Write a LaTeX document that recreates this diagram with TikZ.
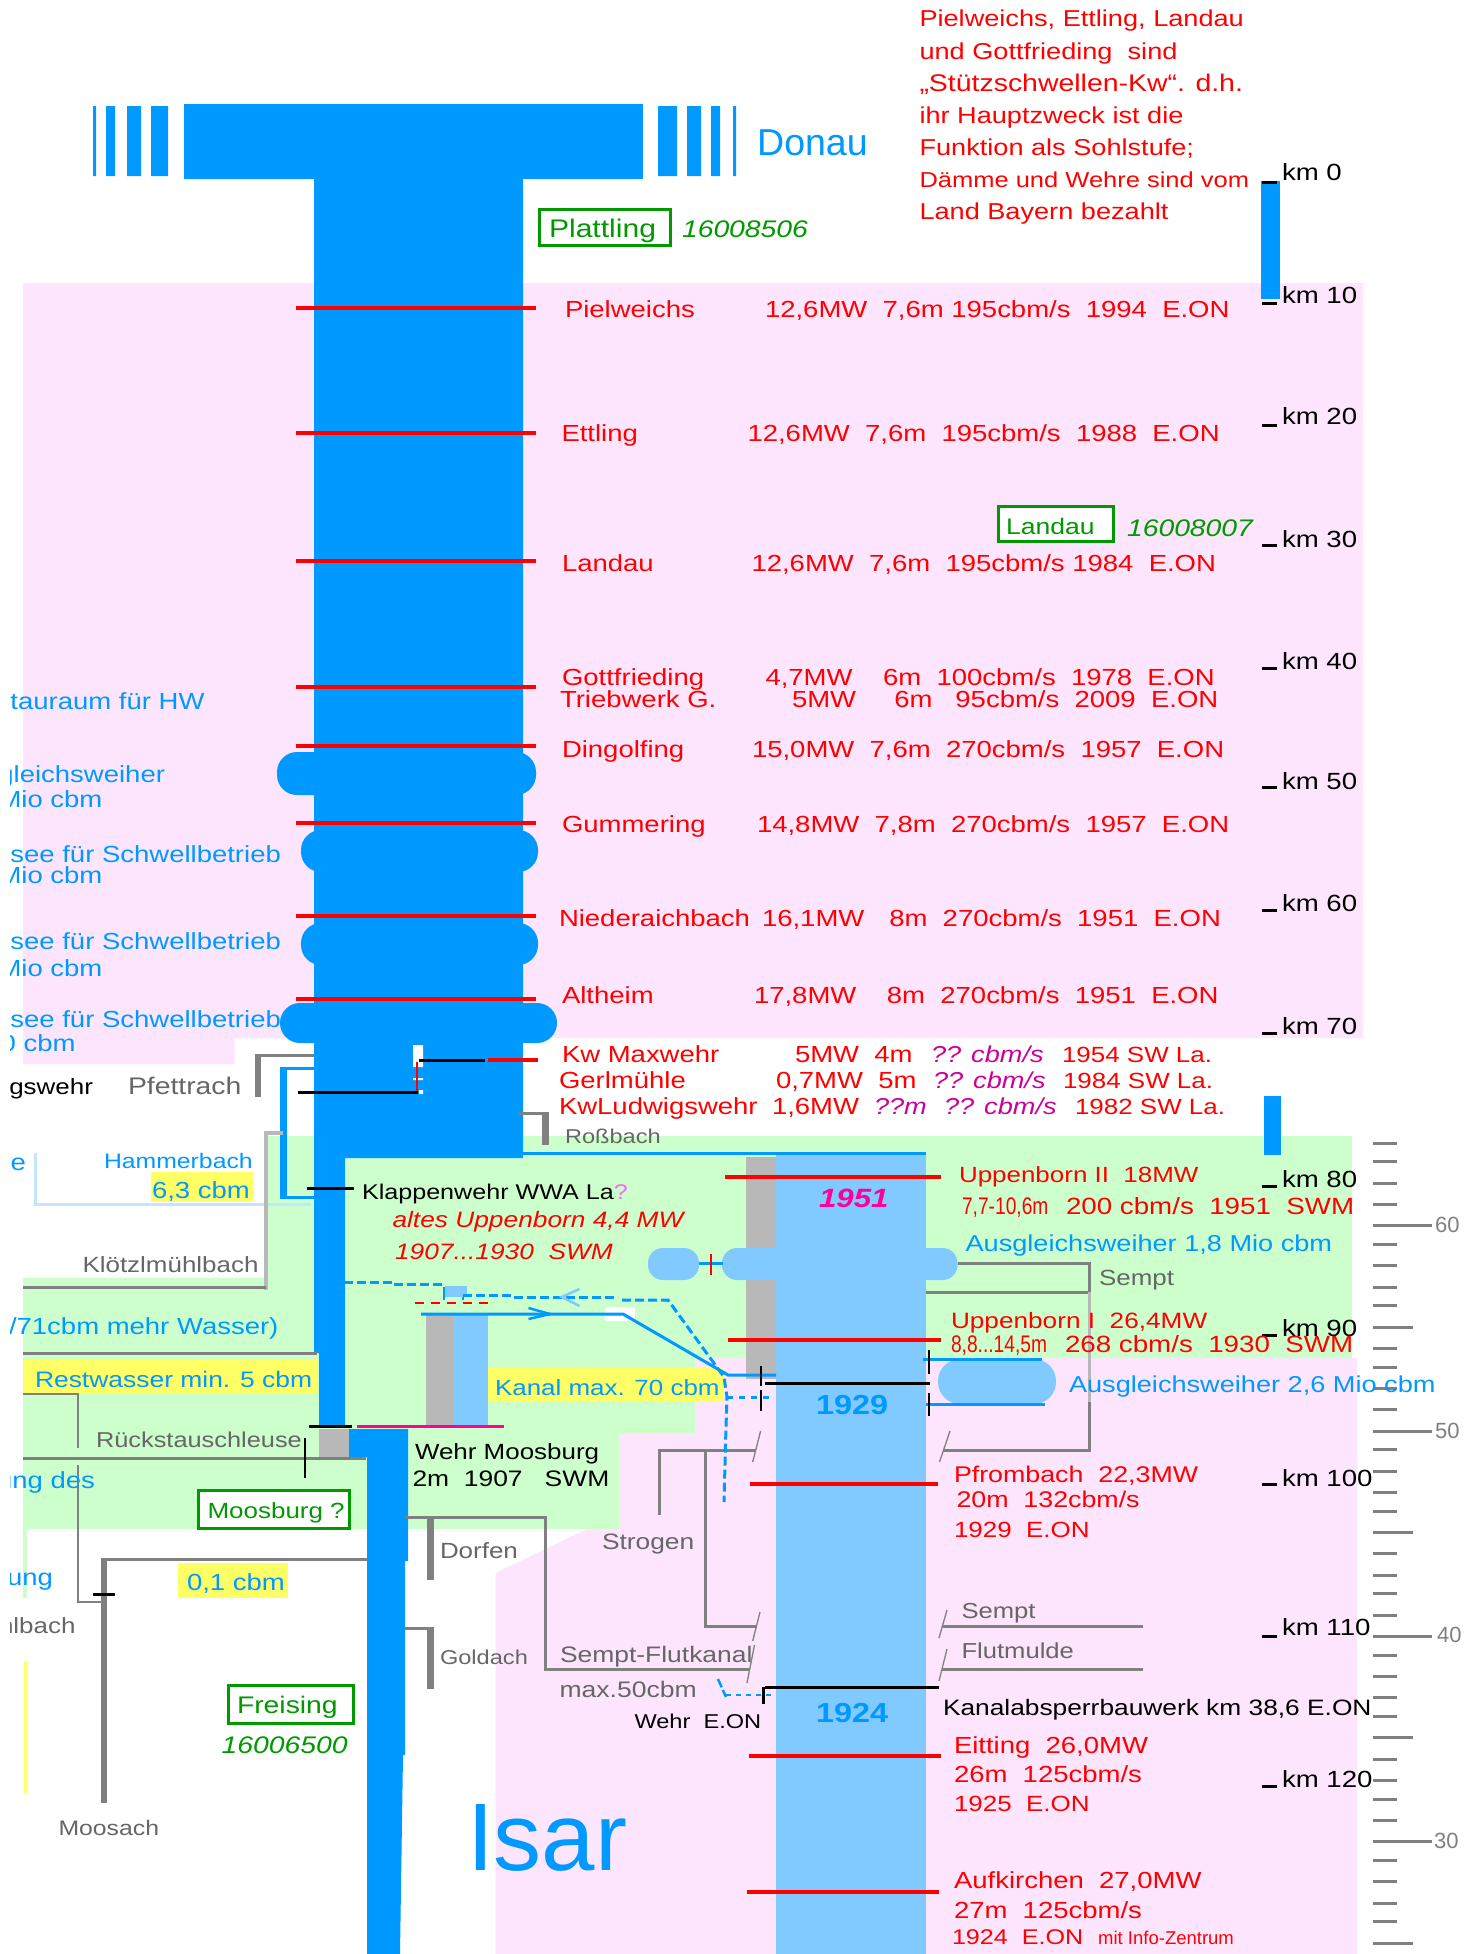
\documentclass[tikz,border=0pt]{standalone}
\usepackage{fontspec}
\newfontfamily\fsa[FakeStretch=1.18,Ligatures=NoCommon]{Liberation Sans}
\newfontfamily\fsn[Ligatures=NoCommon]{Liberation Sans}
\newfontfamily\fsc[FakeStretch=0.8,Ligatures=NoCommon]{Liberation Sans}
\newcommand\fs[1]{\fontsize{#1}{#1}\selectfont}
\definecolor{blu}{HTML}{0099FF}
\definecolor{lblu}{HTML}{80CAFF}
\definecolor{vlblu}{HTML}{C4E4FF}
\definecolor{pnk}{HTML}{FDE5FD}
\definecolor{grn}{HTML}{CCFFCC}
\definecolor{yel}{HTML}{FFFF66}
\definecolor{gry}{HTML}{808080}
\definecolor{lgry}{HTML}{B8B8B8}
\definecolor{tgry}{HTML}{666666}
\definecolor{dgrn}{HTML}{009900}
\definecolor{mag}{HTML}{FF0099}
\definecolor{pur}{HTML}{CC0099}
\definecolor{qm}{HTML}{FF66FF}
\tikzset{
  t/.style={anchor=base west,inner sep=0pt,outer sep=0pt,font=\fsa\fs{#1}},
  t/.default=23.3,
  tr/.style={t=#1,text=red}, tr/.default=23.3,
  tb/.style={t=#1,text=blu}, tb/.default=23.3,
  tk/.style={t=#1,text=black}, tk/.default=23.4,
  tg/.style={t=#1,text=tgry}, tg/.default=22,
  tv/.style={t=#1,text=dgrn}, tv/.default=23,
  endr/.style={anchor=base east},
  pur text/.style={t=23,text=pur,font=\fsa\itshape\fs{23}},
  redl/.style={draw=red,line width=3.2pt},
  blkl/.style={draw=black,line width=3pt},
  thin blk/.style={draw=black,line width=2.2pt},
  gl/.style={draw=gry,line width=3pt},
  gth/.style={draw=gry,line width=1.3pt},
  gthick/.style={draw=gry,line width=7pt},
  bl/.style={draw=blu,line width=3pt},
  dsh/.style={draw=blu,line width=3pt,dash pattern=on 9pt off 4pt},
  sctick/.style={draw=gry,line width=3pt},
  kmt/.style={draw=black,line width=3pt},
  vbox/.style={draw=dgrn,line width=2.5pt,fill=white},
}
\begin{document}
\begin{tikzpicture}[x=1pt,y=-1pt]
\useasboundingbox (0,0) rectangle (1481,1954);
\fill[white] (0,0) rectangle (1481,1954);
\begin{scope}
\clip (10,0) rectangle (1481,1954);
% backgrounds
\fill[pnk] (23,283) -- (1363,283) -- (1363,1038) -- (234.5,1038) -- (234.5,1064) -- (23,1064) -- cycle;
\fill[pnk] (495.5,1954) -- (495.5,1573) -- (587,1529) -- (619,1529) -- (619,1433) -- (695,1433) -- (695,1358) -- (1357,1358) -- (1357,1954) -- cycle;
\fill[grn] (266,1136) -- (1352,1136) -- (1352,1358) -- (695,1358) -- (695,1433) -- (619,1433) -- (619,1529) -- (27,1529) -- (27,1598) -- (23,1598) -- (23,1278) -- (266,1278) -- cycle;
\fill[yel] (151,1172) rectangle (252.5,1202);
\fill[yel] (23.5,1360) rectangle (317,1393);
\fill[yel] (487,1368) rectangle (724,1401);
\fill[yel] (178,1563) rectangle (288,1598);
\fill[yel] (23.5,1662) rectangle (27,1793);
% Donau
\fill[blu] (93,106) rectangle (96,176) (106,106) rectangle (115,176) (127,106) rectangle (141,176) (151,106) rectangle (168,176);
\fill[blu] (658,106) rectangle (677,176) (687,106) rectangle (701,176) (711,106) rectangle (720,176) (733,106) rectangle (736,176);
\fill[blu] (184,104) rectangle (643,179);
% main river
\fill[blu] (314,179) -- (523,179) -- (523,1158) -- (345,1158) -- (345,1426) -- (319,1426) -- (319,1353) -- (314,1353) -- cycle;
\fill[blu,rounded corners=20pt] (277,752) rectangle (536,795);
\fill[blu,rounded corners=20pt] (301,830) rectangle (538,872);
\fill[blu,rounded corners=20pt] (301,923) rectangle (538,965);
\fill[blu,rounded corners=20pt] (280,1003) rectangle (557,1043);
\fill[white] (413,1045) rectangle (423,1067) (413,1078) rectangle (423,1080) (419,1090) rectangle (423,1094);
% lower river
\fill[lgry] (319,1429) rectangle (349,1457);
\fill[blu] (349,1429) -- (408,1429) -- (408,1561) -- (405,1561) -- (405,1755) -- (403,1755) -- (400,1954) -- (367,1954) -- (367,1457) -- (349,1457) -- cycle;
% canal
\fill[lgry] (746,1157) rectangle (776,1379);
\fill[lblu] (776,1155) rectangle (926,1954);
\fill[lblu,rounded corners=15pt] (648,1248) rectangle (699,1280);
\fill[lblu,rounded corners=15pt] (722,1248) rectangle (957.6,1280);
\fill[lblu,rounded corners=22pt] (938,1359) rectangle (1056,1404);
\fill[lgry] (426,1315) rectangle (453,1425);
\fill[lblu] (453,1315) rectangle (487.5,1425);
\fill[white] (605,1307) rectangle (635,1321);
% blue bars right
\fill[blu] (1261,181) rectangle (1280,299);
\fill[blu] (1264,1096) rectangle (1281,1155);
% grey tributaries
\draw[gl] (255,1055) -- (314,1055);
\draw[draw=gry,line width=6pt] (258,1053.5) -- (258,1097);
\draw[bl] (283,1068) -- (314,1068);
\draw[draw=blu,line width=7pt] (283,1066.5) -- (283,1199);
\draw[bl] (283,1197) -- (314,1197);
\draw[draw=vlblu,line width=3pt] (35.5,1153) -- (35.5,1204) -- (311,1204);
\draw[draw=lgry,line width=4pt] (283,1133) -- (266,1133) -- (266,1290);
\draw[gl] (23,1287) -- (266,1287);
\draw[gl] (23,1353) -- (317,1353);
\draw[draw=gry,line width=2.5pt] (23,1394) -- (78,1394) -- (78,1448);
\draw[gl] (23,1458) -- (366,1458);
\draw[draw=gry,line width=2.5pt] (78,1465) -- (78,1602) -- (104,1602);
\draw[gl] (367,1559) -- (104,1559);
\draw[draw=gry,line width=6pt] (104,1557.5) -- (104,1803);
\draw[gl] (519,1113) -- (547,1113);
\draw[gthick] (545.5,1111.5) -- (545.5,1145);
\draw[gl] (405,1517) -- (545,1517) -- (545,1669) -- (750,1669);
\draw[gthick] (430.5,1516) -- (430.5,1580);
\draw[gl] (405,1628) -- (430,1628);
\draw[gthick] (430.5,1626.5) -- (430.5,1689);
\draw[gl] (957.6,1263) -- (1089,1263) -- (1089,1293);
\draw[gl] (926,1292) -- (1089,1292);
\draw[draw=lgry,line width=3pt] (1089,1292) -- (1089,1402);
\draw[gl] (1089,1402) -- (1089,1450) -- (944,1450);
\draw[gl] (659.6,1515) -- (659.6,1450) -- (756,1450);
\draw[gl] (705,1450) -- (705,1626) -- (757,1626);
\draw[gl] (942,1626) -- (1143,1626);
\draw[gl] (942,1669) -- (1143,1669);
\draw[gth] (950,1431) -- (939.5,1462);
\draw[gth] (760.6,1431) -- (752.7,1462);
\draw[gth] (760,1612) -- (752.7,1641);
\draw[gth] (947,1610) -- (939,1638);
\draw[gth] (947,1649) -- (939,1681);
\draw[gth] (754.5,1645) -- (747,1683);
% water lines
\draw[bl] (523,1153) -- (926,1153);
\draw[bl] (699,1263) -- (723,1263);
\draw[bl] (421,1314) -- (623,1314) -- (728,1375) -- (776,1375);
\draw[draw=blu,line width=2.5pt] (528.5,1308) -- (550,1314) -- (528.5,1319);
\draw[draw=blu,line width=3pt] (923,1359) -- (1042,1359) (926,1404) -- (1045,1404);
% dashed
\fill[lblu] (445,1286) rectangle (467,1297);
\draw[dsh] (344,1282) -- (393,1282) -- (393,1284) -- (445,1284);
\draw[draw=blu,line width=2pt] (443.6,1287) -- (443.6,1300) (462.5,1297) -- (462.5,1300);
\draw[dsh] (463,1295) -- (512,1295);
\draw[dsh] (514,1297) -- (618,1297);
\draw[dsh] (622,1300) -- (668,1300) -- (724,1377) -- (727,1397) -- (726,1427) -- (724,1502);
\draw[draw=blu,line width=3pt,dash pattern=on 6pt off 6pt] (727,1397) -- (770,1397);
\draw[draw=lblu,line width=2.5pt] (579.5,1289) -- (561.6,1297) -- (579.5,1306);
\draw[draw=red,line width=2.5pt,dash pattern=on 9pt off 7pt] (415,1303) -- (488,1303);
\draw[draw=blu,line width=2.5pt,dash pattern=on 9pt off 3pt] (718,1679) -- (726,1697);
\draw[draw=blu,line width=2.5pt,dash pattern=on 5pt off 5pt] (726,1695) -- (771,1695);
% red weir lines
\foreach \yy in {308,433,561,687,746,823,916,999} {\draw[redl] (295.5,\yy) -- (536,\yy);}
\draw[redl] (487.5,1060) -- (538,1060);
\draw[draw=red,line width=2pt] (417,1062) -- (417,1092);
\draw[redl] (725,1177) -- (941,1177);
\draw[redl] (728,1340) -- (941,1340);
\draw[redl] (749.6,1484) -- (938,1484);
\draw[redl] (749,1756) -- (941,1756);
\draw[redl] (746.6,1892) -- (939,1892);
\draw[draw=red,line width=2pt] (711,1254) -- (711,1275);
% black
\draw[blkl] (298,1092) -- (418,1092);
\draw[blkl] (419,1060) -- (485,1060);
\draw[blkl] (307,1188) -- (354,1188);
\draw[blkl] (309,1426) -- (351.6,1426);
\draw[draw=mag,line width=3pt] (357,1426) -- (503.5,1426);
\draw[thin blk] (305,1438) -- (305,1478);
\draw[blkl] (93,1594) -- (115,1594);
\draw[thin blk] (929,1350) -- (929,1374) (929,1393) -- (929,1416);
\draw[blkl] (765,1383) -- (930,1383);
\draw[thin blk] (761,1366) -- (761,1386) (761,1390) -- (761,1411);
\draw[blkl] (765,1687) -- (939,1687);
\draw[thin blk] (763.5,1687) -- (763.5,1704);
% km ticks
\foreach \yy in {182,303,425,545,668,787,910,1033,1186,1335,1484,1636,1786} {\draw[kmt] (1262,\yy) -- (1277,\yy);}
% right scale
\foreach \yy in {1143,1161.7,1183,1204.3,1244.3,1265.7,1287,1305.7,1348.3,1367,1388.3,1409.7,1449.7,1471,1492.3,1511,1553.7,1575,1593.7,1615,1655,1676.3,1697.7,1716.3,1759,1780.3,1799,1820.3,1860.3,1881.7,1903,1921.7} {\draw[sctick] (1373,\yy) -- (1397,\yy);}
\foreach \yy in {1327,1532.3,1737.7,1943} {\draw[sctick] (1373,\yy) -- (1413,\yy);}
\foreach \yy in {1225.7,1431,1636,1841.7} {\draw[sctick] (1373,\yy) -- (1432,\yy);}
% boxes
\node[vbox,anchor=north west,minimum width=131pt,minimum height=36pt,inner sep=0pt] (bplat) at (538,208) {};
\node[vbox,anchor=north west,minimum width=115pt,minimum height=35pt,inner sep=0pt] (bland) at (997,505) {};
\node[vbox,anchor=north west,minimum width=151pt,minimum height=38pt,inner sep=0pt] (bmoos) at (197,1489) {};
\node[vbox,anchor=north west,minimum width=125pt,minimum height=38pt,inner sep=0pt] (bfrei) at (227,1684) {};
% big labels
\node[anchor=base west,inner sep=0pt,text=blu,font=\fsn\fs{37.5}] (donau) at (757,155) {Donau};
\node[anchor=base west,inner sep=0pt,text=blu,font=\fsn\fs{96}] (isar) at (467,1870) {Isar};
% green labels
\node[tv=25.5] (lplat) at (549,237) {Plattling};
\node[tv=24,font=\fsa\itshape\fs{24}] (nplat) at (682,237) {16008506};
\node[tv=22.5] (lland) at (1006,534) {Landau};
\node[tv=24,font=\fsa\itshape\fs{24}] (nland) at (1127,536) {16008007};
\node[tv=22] (lmoos) at (207.6,1518) {Moosburg ?};
\node[tv=24] (lfrei) at (237,1713) {Freising};
\node[tv=24,font=\fsa\itshape\fs{24}] (nfrei) at (221.7,1753) {16006500};
% note
\node[tr=23] (n1) at (919.5,27) {Pielweichs, Ettling, Landau};
\node[tr=23] (n2) at (919.5,59) {und Gottfrieding~~sind};
\node[tr=24.1] (n3) at (919.5,91) {„Stützschwellen-Kw“. d.h.};
\node[tr=23] (n4) at (919.5,123) {ihr Hauptzweck ist die};
\node[tr=23] (n5) at (919.5,155) {Funktion als Sohlstufe;};
\node[tr=21.6] (n6) at (919.5,187) {Dämme und Wehre sind vom};
\node[tr=23] (n7) at (919.5,219) {Land Bayern bezahlt};
% km labels
\node[tk] (k0) at (1282,180) {km 0};
\node[tk] (k10) at (1282,303) {km 10};
\node[tk] (k20) at (1282,424) {km 20};
\node[tk] (k30) at (1282,547) {km 30};
\node[tk] (k40) at (1282,669) {km 40};
\node[tk] (k50) at (1282,789) {km 50};
\node[tk] (k60) at (1282,911) {km 60};
\node[tk] (k70) at (1282,1034) {km 70};
\node[tk] (k80) at (1282,1187) {km 80};
\node[tk] (k90) at (1282,1336) {km 90};
\node[tk] (k100) at (1282,1486) {km 100};
\node[tk] (k110) at (1282,1635) {km 110};
\node[tk] (k120) at (1282,1787) {km 120};
% scale numbers
\node[anchor=base west,inner sep=0pt,text=gry,font=\fsn\fs{22}] (s60) at (1435,1232) {60};
\node[anchor=base west,inner sep=0pt,text=gry,font=\fsn\fs{22}] (s50) at (1435,1438) {50};
\node[anchor=base west,inner sep=0pt,text=gry,font=\fsn\fs{22}] (s40) at (1437,1642) {40};
\node[anchor=base west,inner sep=0pt,text=gry,font=\fsn\fs{22}] (s30) at (1434,1848) {30};
% power stations
\node[tr] (a1) at (565,317) {Pielweichs};
\node[tr] (a2) at (765,317) {12,6MW~~7,6m 195cbm/s~~1994~~E.ON};
\node[tr] (b1) at (561.5,441) {Ettling};
\node[tr] (b2) at (747.5,441) {12,6MW~~7,6m~~195cbm/s~~1988~~E.ON};
\node[tr] (c1) at (562,571) {Landau};
\node[tr] (c2) at (751.5,571) {12,6MW~~7,6m~~195cbm/s 1984~~E.ON};
\node[tr] (d1) at (562,685) {Gottfrieding};
\node[tr] (d2) at (765.5,685) {4,7MW~~~~6m~~100cbm/s~~1978~~E.ON};
\node[tr] (e1) at (560,707) {Triebwerk G.};
\node[tr] (e2) at (792,707) {5MW~~~~~6m~~~95cbm/s~~2009~~E.ON};
\node[tr] (f1) at (562,757) {Dingolfing};
\node[tr] (f2) at (752,757) {15,0MW~~7,6m~~270cbm/s~~1957~~E.ON};
\node[tr] (g1) at (562,832) {Gummering};
\node[tr] (g2) at (757,832) {14,8MW~~7,8m~~270cbm/s~~1957~~E.ON};
\node[tr] (h1) at (559,926) {Niederaichbach};
\node[tr] (h2) at (762,926) {16,1MW\hspace{2pt}~~~8m~~270cbm/s~~1951~~E.ON};
\node[tr] (i1) at (562,1003) {Altheim};
\node[tr] (i2) at (754,1003) {17,8MW~~~~8m~~270cbm/s~~1951~~E.ON};
\node[tr] (j1) at (562,1062) {Kw Maxwehr};
\node[tr] (j2) at (795,1062) {5MW~~4m};
\node[pur text] (j3) at (931,1062) {?? cbm/s};
\node[tr=22] (j4) at (1062,1062) {1954 SW La.};
\node[tr] (l1) at (559,1088) {Gerlmühle};
\node[tr] (l2) at (776,1088) {0,7MW~~5m};
\node[pur text] (l3) at (933,1088) {?? cbm/s};
\node[tr=22] (l4) at (1063,1088) {1984 SW La.};
\node[tr] (m1) at (559,1114) {KwLudwigswehr};
\node[tr] (m2) at (772,1114) {1,6MW};
\node[pur text] (m3) at (874,1114) {??m};
\node[pur text] (m5) at (944,1114) {?? cbm/s};
\node[tr=22] (m4) at (1075,1114) {1982 SW La.};
% Uppenborn etc
\node[tr=22] (u1) at (959,1182) {Uppenborn II~~18MW};
\node[t=24,text=red,font=\fsc\fs{24}] (u2) at (962,1214) {7,7-10,6m};
\node[tr=23.5] (u3) at (1066,1214) {200 cbm/s~~1951~~SWM};
\node[tb=23] (u4) at (965.6,1251) {Ausgleichsweiher 1,8 Mio cbm};
\node[tg] (u5) at (1099,1285) {Sempt};
\node[tr=22.2] (v1) at (951,1328) {Uppenborn I~~26,4MW};
\node[t=24,text=red,font=\fsc\fs{24}] (v2) at (951,1352) {8,8...14,5m};
\node[tr=23.5] (v3) at (1065,1352) {268 cbm/s~~1930~~SWM};
\node[tb=23] (v4) at (1069,1392) {Ausgleichsweiher 2,6 Mio cbm};
\node[tr=22.7] (w1) at (954,1482) {Pfrombach~~22,3MW};
\node[tr=22.7] (w2) at (956.5,1507) {20m~~132cbm/s};
\node[tr=22] (w3) at (954,1537) {1929~~E.ON};
\node[tg=21.7] (x1) at (961.5,1618) {Sempt};
\node[tg=21.7] (x2) at (961.5,1658) {Flutmulde};
\node[tk=22.3] (x3) at (943,1715) {Kanalabsperrbauwerk km 38,6 E.ON};
\node[tr] (y1) at (954,1753) {Eitting~~26,0MW};
\node[tr] (y2) at (954,1782) {26m~~125cbm/s};
\node[tr=22] (y3) at (954,1811) {1925~~E.ON};
\node[tr] (z1) at (954,1888) {Aufkirchen~~27,0MW};
\node[tr] (z2) at (954,1918) {27m~~125cbm/s};
\node[tr=21.3] (z3) at (952,1944) {1924~~E.ON};
\node[anchor=base west,inner sep=0pt,text=red,font=\fsn\fs{18.5}] (z4) at (1098,1944) {mit Info-Zentrum};
% years
\node[t=26.5,text=mag,font=\fsa\bfseries\itshape\fs{26.5}] (y51) at (819,1207) {1951};
\node[t=27.5,text=blu,font=\fsa\bfseries\fs{27.5}] (y29) at (816,1414) {1929};
\node[t=27.5,text=blu,font=\fsa\bfseries\fs{27.5}] (y24) at (816,1722) {1924};
% left texts
\node[tb,endr] (l01) at (204.5,709) {Stauraum für HW};
\node[tb,endr] (l02) at (165,782) {gleichsweiher};
\node[tb,endr] (l03) at (102.4,807) {Mio cbm};
\node[tb] (l04) at (10.4,862) {see für Schwellbetrieb};
\node[tb,endr] (l05) at (102.4,883) {Mio cbm};
\node[tb] (l06) at (10.4,949) {see für Schwellbetrieb};
\node[tb,endr] (l07) at (102.4,976) {Mio cbm};
\node[tb] (l08) at (10.4,1027) {see für Schwellbetrieb};
\node[tb,endr] (l09) at (75.5,1051) {0 cbm};
\node[tk=22,endr] (l10) at (93,1094) {gswehr};
\node[tg=24] (l11) at (128,1094) {Pfettrach};
\node[tb,endr] (l12) at (26,1170) {e};
\node[tb=21] (l13) at (104,1168) {Hammerbach};
\node[tb] (l14) at (152,1198) {6,3 cbm};
\node[tg=20] (l15) at (565,1143) {Roßbach};
\node[tk=21.3] (l16) at (362,1199) {Klappenwehr WWA La{\color{qm}?}};
\node[tr=22.3,font=\fsa\itshape\fs{22.3}] (l17) at (392.5,1227) {altes Uppenborn 4,4 MW};
\node[tr=22.3,font=\fsa\itshape\fs{22.3}] (l18) at (395,1259) {1907...1930~~SWM};
\node[tg] (l19) at (82.5,1272) {Klötzlmühlbach};
\node[tb,endr] (l20) at (278.4,1334) {/71cbm mehr Wasser)};
\node[tb=22.4] (l21) at (35,1387) {Restwasser min. 5 cbm};
\node[tb=22] (l22) at (495,1395) {Kanal max. 70 cbm};
\node[tg=21.5] (l23) at (96,1447) {Rückstauschleuse};
\node[tb,endr] (l24) at (95,1488) {ung des};
\node[tk=22] (l25) at (415,1459) {Wehr Moosburg};
\node[tk=22.4] (l26) at (412.5,1486) {2m~~1907~~~SWM};
\node[tg] (l27) at (440,1558) {Dorfen};
\node[tg=20] (l28) at (440,1664) {Goldach};
\node[tg=22.3] (l29) at (602,1549) {Strogen};
\node[tg=22.4] (l30) at (560,1662) {Sempt-Flutkanal};
\node[tg=22.5] (l31) at (559.5,1697) {max.50cbm};
\node[tk=20] (l32) at (634.5,1728) {Wehr~~E.ON};
\node[tb] (l33) at (187,1590) {0,1 cbm};
\node[tb,endr] (l34) at (53,1585) {ung};
\node[tg,endr] (l35) at (75.5,1633) {hlbach};
\node[tg=21] (l36) at (58.5,1835) {Moosach};
\end{scope}
\end{tikzpicture}
\end{document}
